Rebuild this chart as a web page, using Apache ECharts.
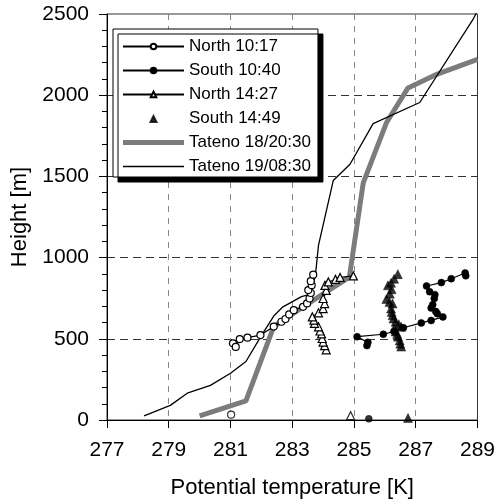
<!DOCTYPE html>
<html>
<head>
<meta charset="utf-8">
<script src="https://cdn.jsdelivr.net/npm/echarts@6/dist/echarts.min.js"></script>
<style>html,body{margin:0;padding:0;background:#fff}#c{width:498px;height:504px}</style>
</head>
<body>
<div id="c"></div>
<script>
var seriesNames = ['North 10:17', 'South 10:40', 'North 14:27', 'South 14:49', 'Tateno 18/20:30', 'Tateno 19/08:30'];
var xTicks = [277, 279, 281, 283, 285, 287, 289];
var yTicks = [0, 500, 1000, 1500, 2000, 2500];

var north1017 = [[281.08,472],[281.17,450],[281.3,498],[281.55,507],[281.97,523],[282.4,575],[282.65,605],[282.78,622],[282.9,650],[283.05,676],[283.35,697],[283.48,718],[283.56,748],[283.6,782],[283.52,800],[283.63,830],[283.6,855],[283.68,895]];
var north1017Sfc = [[281.02,33]];
var south1040 = [[285.42,458],[285.45,478],[285.1,513],[285.95,528],[286.3,545],[286.6,568],[287.18,598],[287.5,613],[287.88,635],[287.7,655],[287.65,668],[287.5,690],[287.55,710],[287.6,748],[287.62,772],[287.45,790],[287.35,825],[287.83,846],[288.15,870],[288.6,905],[288.62,888]];
var south1040Sfc = [[285.48,7]];
var north1427 = [[284.1,432],[284.05,458],[284.0,480],[283.97,502],[283.95,530],[283.9,548],[283.85,574],[283.72,595],[283.7,615],[283.65,635],[283.85,660],[284.0,686],[284.05,717],[284.0,748],[284.1,798],[284.06,829],[284.17,850],[284.4,866],[284.55,878],[284.98,887]];
var north1427Sfc = [[284.89,27]];
var south1449 = [[286.53,452],[286.5,470],[286.48,490],[286.43,513],[286.4,530],[286.35,545],[286.3,564],[286.53,574],[286.45,590],[286.35,605],[286.28,625],[286.25,645],[286.22,665],[286.2,686],[286.25,717],[286.15,727],[286.05,745],[286.16,778],[286.22,805],[286.1,829],[286.2,845],[286.3,870],[286.42,898],[286.75,12]];
var tateno18 = [[280.0,25],[281.5,118],[282.4,575],[283.3,690],[284.85,880],[285.3,1460],[286.05,1830],[286.75,2045],[287.7,2130],[289.0,2220]];
var tateno19 = [[278.2,25],[279.05,90],[279.6,165],[280.35,213],[281.0,288],[281.5,360],[282.0,520],[282.4,640],[282.7,697],[283.3,760],[283.6,775],[283.75,890],[283.85,1075],[284.33,1475],[284.87,1575],[285.62,1825],[287.13,1955],[288.85,2465],[289.0,2520]];

var FONT = 'Liberation Sans';
var chart = echarts.init(document.getElementById('c'), null, {renderer: 'canvas'});

var openCircle = {color: '#fff', borderColor: '#000', borderWidth: 1.2};
var filled = {color: '#000', borderColor: '#000', borderWidth: 0.5};
var openTri = {color: '#fff', borderColor: '#000', borderWidth: 1.2};
var GRAY = '#7c7c7c';

chart.setOption({
  animation: false,
  backgroundColor: '#fff',
  grid: {left: 107, right: 20, top: 14, bottom: 82, show: true, borderColor: '#333', borderWidth: 1, backgroundColor: 'transparent'},
  legend: {
    orient: 'vertical', left: 113, top: 29,
    data: [
      {name: seriesNames[0]},
      {name: seriesNames[1]},
      {name: seriesNames[2]},
      {name: seriesNames[3], icon: 'path://M0,0M61,7M27.5,7L30.5,1L33.5,7Z', itemStyle: {color: '#000'}},
      {name: seriesNames[4], icon: 'path://M0,0H61V5H0Z', itemStyle: {color: GRAY}},
      {name: seriesNames[5], icon: 'path://M0,0H61V1.3H0Z', itemStyle: {color: '#000'}}
    ],
    itemWidth: 61, itemHeight: 7, itemGap: 7, itemTextGap: 5,
    padding: [9, 7, 2, 9],
    backgroundColor: '#fff', borderColor: '#000', borderWidth: 1,
    shadowColor: '#000', shadowBlur: 0, shadowOffsetX: 5, shadowOffsetY: 5,
    textStyle: {fontFamily: FONT, fontSize: 17, lineHeight: 14, color: '#000'}
  },
  xAxis: {
    type: 'value', min: xTicks[0], max: xTicks[xTicks.length - 1], interval: 2,
    name: 'Potential temperature [K]', nameLocation: 'middle', nameGap: 57,
    nameTextStyle: {fontFamily: FONT, fontSize: 22, color: '#000'},
    axisLine: {show: true, lineStyle: {color: '#000', width: 1}},
    axisTick: {show: true, inside: false, length: 8, lineStyle: {color: '#000'}},
    axisLabel: {fontFamily: FONT, fontSize: 21, color: '#000', margin: 20, formatter: function (v) { return String(v); }},
    splitLine: {show: true, showMinLine: false, showMaxLine: false, lineStyle: {color: '#888', type: [6, 6], width: 1}}
  },
  yAxis: {
    type: 'value', min: yTicks[0], max: yTicks[yTicks.length - 1], interval: 500,
    name: 'Height [m]', nameLocation: 'middle', nameGap: 76,
    nameTextStyle: {fontFamily: FONT, fontSize: 22, color: '#000'},
    axisLine: {show: true, lineStyle: {color: '#000', width: 1}},
    axisTick: {show: true, inside: false, length: 8, lineStyle: {color: '#000'}},
    minorTick: {show: true, splitNumber: 5, length: 5, lineStyle: {color: '#000'}},
    axisLabel: {fontFamily: FONT, fontSize: 21, color: '#000', margin: 18, formatter: function (v) { return String(v); }},
    splitLine: {show: true, showMinLine: false, showMaxLine: false, lineStyle: {color: '#333', type: [8, 5], width: 1}}
  },
  series: [
    {name: seriesNames[4], type: 'line', data: tateno18, symbol: 'none', showSymbol: false, z: 2,
     lineStyle: {color: GRAY, width: 5}, itemStyle: {color: GRAY}},
    {name: seriesNames[5], type: 'line', data: tateno19, symbol: 'none', showSymbol: false, z: 2,
     lineStyle: {color: '#000', width: 1.3}, itemStyle: {color: '#000'}},
    {name: seriesNames[0], type: 'line', data: north1017, symbol: 'circle', symbolSize: 7, z: 3,
     lineStyle: {color: '#000', width: 1.2}, itemStyle: openCircle},
    {name: 'sfc1', type: 'scatter', data: north1017Sfc, symbol: 'circle', symbolSize: 7, z: 3, itemStyle: openCircle},
    {name: seriesNames[1], type: 'line', data: south1040, symbol: 'circle', symbolSize: 7, z: 3,
     lineStyle: {color: '#000', width: 1.2}, itemStyle: filled},
    {name: 'sfc2', type: 'scatter', data: south1040Sfc, symbol: 'circle', symbolSize: 7, z: 3, itemStyle: filled},
    {name: seriesNames[2], type: 'line', data: north1427, symbol: 'triangle', symbolSize: 8, z: 3,
     lineStyle: {color: '#000', width: 1.2}, itemStyle: openTri},
    {name: 'sfc3', type: 'scatter', data: north1427Sfc, symbol: 'triangle', symbolSize: 8, z: 3, itemStyle: openTri},
    {name: seriesNames[3], type: 'scatter', data: south1449, symbol: 'triangle', symbolSize: 9, z: 3, itemStyle: filled}
  ]
});
</script>
</body>
</html>
